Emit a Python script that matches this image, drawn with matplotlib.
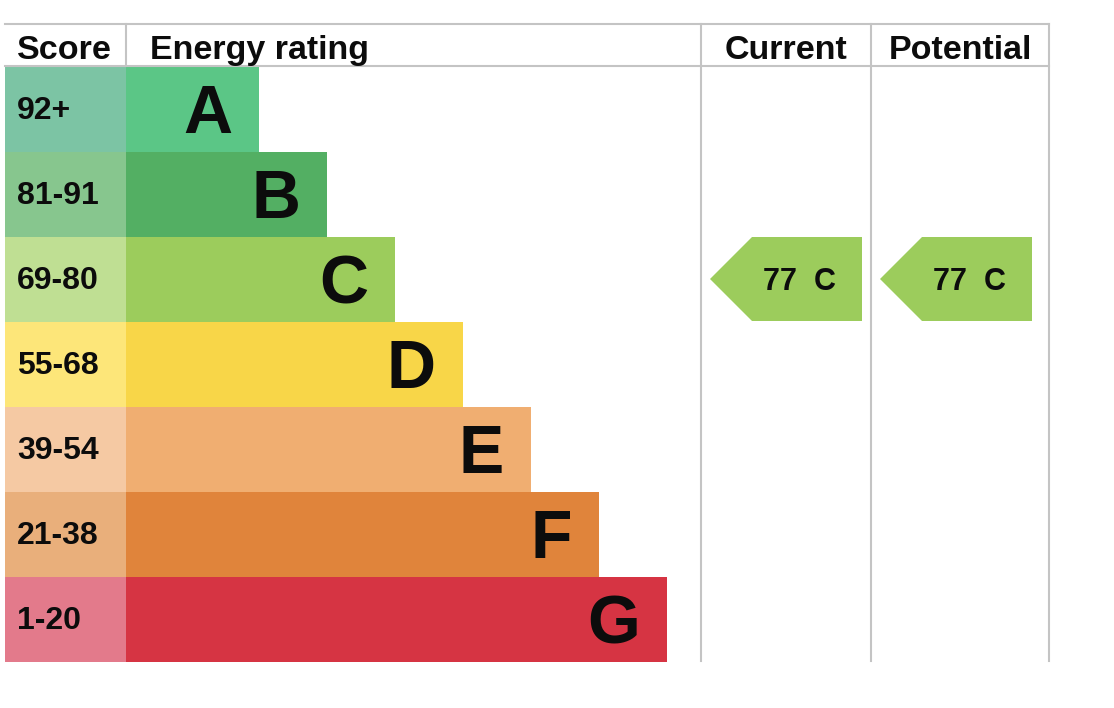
import matplotlib.pyplot as plt
from matplotlib.patches import Rectangle, Polygon

# EPC bands
bands = ["A", "B", "C", "D", "E", "F", "G"]
score_labels = ["92+", "81-91", "69-80", "55-68", "39-54", "21-38", "1-20"]
band_min = [92, 81, 69, 55, 39, 21, 1]
score_colors = ["#7cc4a4", "#87c68e", "#bfdf93", "#fde679", "#f5c9a3", "#e9af7b", "#e37a8b"]
bar_colors = ["#5bc686", "#53af63", "#9ccc5c", "#f8d648", "#f0ae71", "#e0843b", "#d63443"]

current_score = 77
potential_score = 77

# layout (pixels)
W, H = 1114, 708
left, score_w = 5, 121
row_top, row_h = 67, 85
bar_w0, bar_step = 133, 68
col_x = [701, 871, 1049]
top_y, head_y = 24, 66
bottom_y = row_top + row_h * len(bands) - 1
grid = "#c4c4c4"
ink = "#0c0c0c"
font = "Liberation Sans"

fig = plt.figure(figsize=(W / 100, H / 100), dpi=100)
ax = fig.add_axes([0, 0, 1, 1])
ax.set_xlim(0, W)
ax.set_ylim(H, 0)
ax.axis("off")

# grid lines
ax.plot([left, col_x[-1]], [top_y, top_y], color=grid, lw=1.5)
ax.plot([left, col_x[-1]], [head_y, head_y], color=grid, lw=1.5)
ax.plot([left + score_w, left + score_w], [top_y, head_y], color=grid, lw=1.5)
for x in col_x:
    ax.plot([x, x], [top_y, bottom_y], color=grid, lw=1.5)

# headers
ax.text(17, 59, "Score", fontsize=24.5, fontweight="bold", family=font, color=ink, va="baseline")
ax.text(150, 59, "Energy rating", fontsize=24.5, fontweight="bold", family=font, color=ink, va="baseline")
ax.text((col_x[0] + col_x[1]) / 2, 59, "Current", fontsize=24.5, fontweight="bold", family=font,
        color=ink, va="baseline", ha="center")
ax.text((col_x[1] + col_x[2]) / 2, 59, "Potential", fontsize=24.5, fontweight="bold", family=font,
        color=ink, va="baseline", ha="center")

# band rows
for i, band in enumerate(bands):
    y0 = row_top + i * row_h
    ax.add_patch(Rectangle((left, y0), score_w, row_h, facecolor=score_colors[i],
                           edgecolor="none"))
    bx = left + score_w
    bw = bar_w0 + bar_step * i
    ax.add_patch(Rectangle((bx, y0), bw, row_h, facecolor=bar_colors[i], edgecolor="none"))
    ax.text(17, y0 + 52, score_labels[i], fontsize=23, fontweight="bold", family=font,
            color=ink, va="baseline")
    ax.text(bx + bw - 27, y0 + 66, band, fontsize=49, fontweight="bold", family=font,
            color=ink, va="baseline", ha="right")


def band_index(score):
    for i, m in enumerate(band_min):
        if score >= m:
            return i
    return len(bands) - 1


def draw_arrow(score, col_left):
    i = band_index(score)
    y0 = row_top + i * row_h
    y1 = y0 + row_h - 1
    tip = col_left + 9
    base = tip + 42
    right = col_left + 161
    ax.add_patch(Polygon([(tip, (y0 + y1) / 2), (base, y0), (right, y0), (right, y1), (base, y1)],
                         closed=True, facecolor=bar_colors[i], edgecolor="none"))
    ax.text(base + 11, y0 + 53, f"{score}  {bands[i]}", fontsize=22, fontweight="bold",
            family=font, color=ink, va="baseline")


draw_arrow(current_score, col_x[0])
draw_arrow(potential_score, col_x[1])

fig.savefig("out.png", dpi=100)
